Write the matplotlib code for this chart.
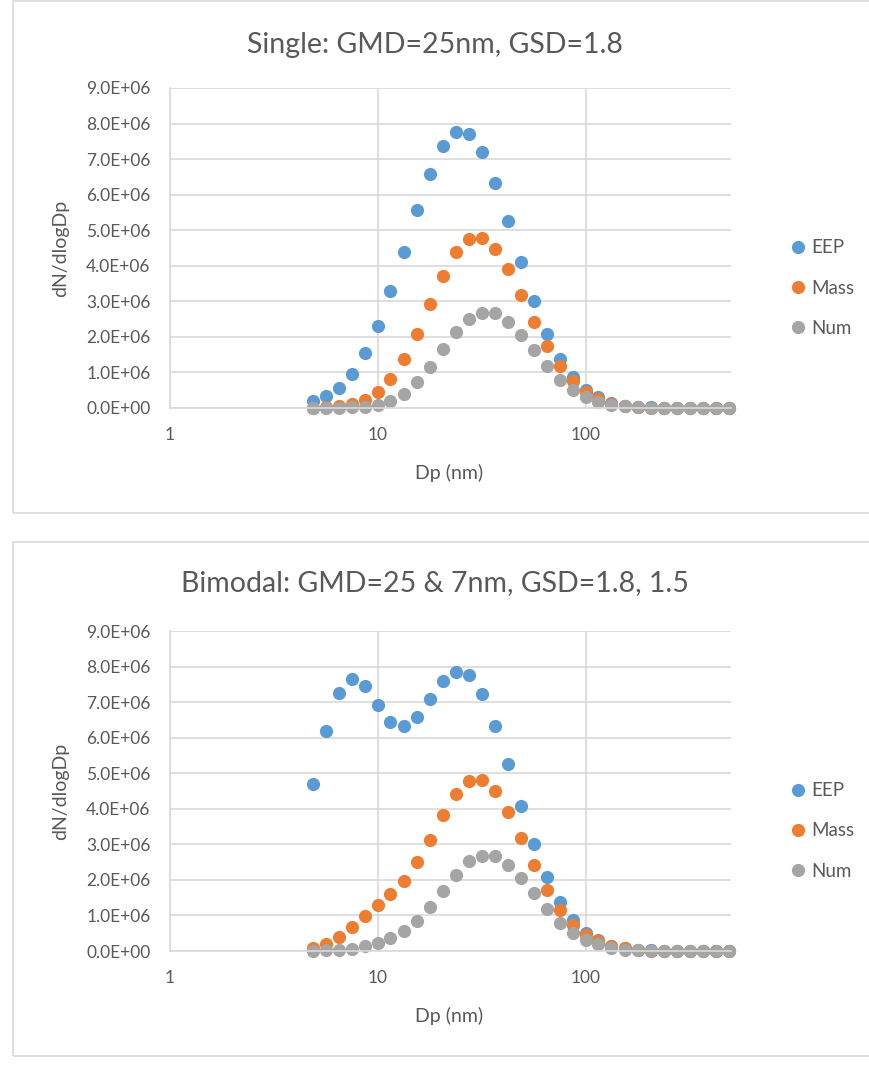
import matplotlib.pyplot as plt
from matplotlib.patches import Rectangle
from matplotlib.ticker import FuncFormatter, FixedLocator, NullLocator

plt.rcParams['font.family'] = ['Lato', 'DejaVu Sans']

# 입자 크기 (nm)
dp = [4.87, 5.62, 6.49, 7.50, 8.66, 10.0, 11.5, 13.3, 15.4, 17.8, 20.5,
      23.7, 27.4, 31.6, 36.5, 42.2, 48.7, 56.2, 64.9, 75.0, 86.6, 100,
      115, 133, 154, 178, 205, 237, 274, 316, 365, 422, 487]

# Single (단위 1E6)
single_eep = [0.19, 0.35, 0.57, 0.96, 1.54, 2.31, 3.29, 4.40, 5.56, 6.59, 7.36,
              7.76, 7.71, 7.19, 6.33, 5.25, 4.10, 3.01, 2.09, 1.38, 0.87, 0.51,
              0.30, 0.14, 0.07, 0.03, 0.015, 0.005, 0.002, 0.0, 0.0, 0.0, 0.0]
single_mass = [0.01, 0.03, 0.07, 0.12, 0.23, 0.44, 0.81, 1.38, 2.09, 2.93, 3.72,
               4.38, 4.75, 4.79, 4.48, 3.92, 3.18, 2.43, 1.73, 1.17, 0.75, 0.44,
               0.25, 0.12, 0.07, 0.03, 0.01, 0.005, 0.0, 0.0, 0.0, 0.0, 0.0]
single_num = [0.0, 0.0, 0.01, 0.02, 0.04, 0.09, 0.19, 0.39, 0.72, 1.15, 1.65,
              2.13, 2.51, 2.68, 2.67, 2.43, 2.05, 1.62, 1.17, 0.80, 0.51, 0.30,
              0.17, 0.09, 0.05, 0.02, 0.01, 0.0, 0.0, 0.0, 0.0, 0.0, 0.0]

# Bimodal (단위 1E6)
bi_eep = [4.70, 6.18, 7.25, 7.64, 7.46, 6.92, 6.45, 6.33, 6.58, 7.08, 7.58,
          7.85, 7.75, 7.22, 6.34, 5.26, 4.09, 3.02, 2.08, 1.37, 0.86, 0.51,
          0.30, 0.15, 0.08, 0.03, 0.015, 0.005, 0.002, 0.0, 0.0, 0.0, 0.0]
bi_mass = [0.08, 0.21, 0.38, 0.67, 0.99, 1.28, 1.59, 1.98, 2.49, 3.13, 3.83,
           4.42, 4.77, 4.80, 4.49, 3.91, 3.17, 2.43, 1.72, 1.16, 0.74, 0.46,
           0.27, 0.15, 0.08, 0.03, 0.01, 0.005, 0.0, 0.0, 0.0, 0.0, 0.0]
bi_num = [0.01, 0.02, 0.03, 0.06, 0.13, 0.22, 0.37, 0.55, 0.83, 1.23, 1.68,
          2.15, 2.52, 2.68, 2.66, 2.43, 2.05, 1.63, 1.18, 0.79, 0.52, 0.32,
          0.20, 0.08, 0.04, 0.02, 0.01, 0.0, 0.0, 0.0, 0.0, 0.0, 0.0]

labels = ['EEP', 'Mass', 'Num']
colors = ['#5B9BD5', '#ED7D31', '#A5A5A5']
txt = '#595959'
grid = '#D9D9D9'

W, H = 870, 1075
fig = plt.figure(figsize=(W / 100, H / 100), dpi=100)

# 차트 테두리
fig.patches.append(Rectangle((13 / W, 1 - 513 / H), 1.0, 512 / H, transform=fig.transFigure,
                             fill=False, edgecolor=grid, linewidth=1.2))
fig.patches.append(Rectangle((13 / W, 1 - 1056 / H), 1.0, 514 / H, transform=fig.transFigure,
                             fill=False, edgecolor=grid, linewidth=1.2))

panels = [
    ('Single: GMD=25nm, GSD=1.8', [single_eep, single_mass, single_num], 88, 45, 473),
    ('Bimodal: GMD=25 & 7nm, GSD=1.8, 1.5', [bi_eep, bi_mass, bi_num], 631, 583, 1016),
]

for title, series, top_px, title_px, xlab_px in panels:
    ax = fig.add_axes([170 / W, 1 - (top_px + 320) / H, 561 / W, 320 / H])
    for ys, lab, c in zip(series, labels, colors):
        ax.plot(dp, [v * 1e6 for v in ys], 'o', color=c, markersize=9.5,
                markeredgewidth=0, label=lab, clip_on=False)
    ax.set_xscale('log')
    ax.set_xlim(1, 500)
    ax.set_ylim(0, 9e6)
    ax.xaxis.set_major_locator(FixedLocator([1, 10, 100]))
    ax.xaxis.set_minor_locator(NullLocator())
    ax.xaxis.set_major_formatter(FuncFormatter(lambda v, p: '%g' % v))
    ax.set_yticks([i * 1e6 for i in range(10)])
    ax.yaxis.set_major_formatter(FuncFormatter(lambda v, p: '%.1E' % v))
    ax.grid(True, color=grid, linewidth=1.2)
    ax.set_axisbelow(True)
    for s in ['top', 'right']:
        ax.spines[s].set_visible(False)
    for s in ['left', 'bottom']:
        ax.spines[s].set_color(grid)
        ax.spines[s].set_linewidth(1.2)
    ax.tick_params(axis='y', length=0, labelsize=12.5, colors=txt, pad=14)
    ax.tick_params(axis='x', length=0, labelsize=12.5, colors=txt, pad=14)
    fig.text(449 / W, 1 - xlab_px / H, 'Dp (nm)', ha='center', va='center', fontsize=14, color=txt)
    fig.text(61 / W, 1 - (top_px + 160) / H, 'dN/dlogDp', ha='center', va='center',
             rotation=90, fontsize=14, color=txt)
    fig.text(435 / W, 1 - title_px / H, title, ha='center', va='center', fontsize=20.5, color=txt)
    leg = ax.legend(loc='center left', bbox_to_anchor=(1.089, 0.375), frameon=False,
                    fontsize=13.5, borderpad=0, handlelength=0.8, handletextpad=0.3,
                    labelspacing=1.25, markerscale=1.0)
    for t in leg.get_texts():
        t.set_color(txt)

fig.savefig('out.png', dpi=100)
